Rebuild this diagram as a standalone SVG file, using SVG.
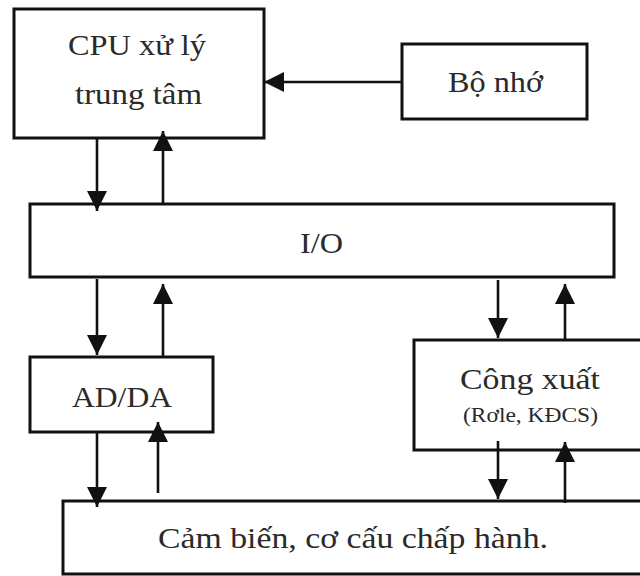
<svg xmlns="http://www.w3.org/2000/svg" width="640" height="576" viewBox="0 0 640 576">
  <style>
    .box { fill: #ffffff; stroke: #111111; stroke-width: 3; }
    .lbl { font-family: "Liberation Serif", "Times New Roman", serif; font-size: 30px; fill: #2a2a2a; text-anchor: middle; }
    .sub { font-size: 21px; }
    .wire { stroke: #111111; stroke-width: 2.6; fill: none; marker-end: url(#head); }
  </style>
  <defs>
    <marker id="head" markerUnits="userSpaceOnUse" markerWidth="21" markerHeight="21" refX="20" refY="10" orient="auto" viewBox="0 0 21 21">
      <path d="M0,0 L20,10 L0,20 z" fill="#111111"/>
    </marker>
  </defs>

  <rect width="640" height="576" fill="#ffffff"/>

  <g id="cpu">
    <rect class="box" x="14" y="9" width="250" height="129"/>
    <text class="lbl" x="137" y="55" textLength="138" lengthAdjust="spacingAndGlyphs">CPU xử lý</text>
    <text class="lbl" x="138.5" y="104" textLength="127" lengthAdjust="spacingAndGlyphs">trung tâm</text>
  </g>

  <g id="memory">
    <rect class="box" x="402" y="44" width="185" height="75"/>
    <text class="lbl" x="495.5" y="92" textLength="95" lengthAdjust="spacingAndGlyphs">Bộ nhớ</text>
  </g>

  <g id="io">
    <rect class="box" x="30" y="204" width="584" height="73"/>
    <text class="lbl" x="321.5" y="253" textLength="43" lengthAdjust="spacingAndGlyphs">I/O</text>
  </g>

  <g id="adda">
    <rect class="box" x="30" y="357" width="183" height="75"/>
    <text class="lbl" x="122" y="407" textLength="100" lengthAdjust="spacingAndGlyphs">AD/DA</text>
  </g>

  <g id="power">
    <rect class="box" x="414" y="340" width="240" height="110"/>
    <text class="lbl" x="530" y="389" textLength="140" lengthAdjust="spacingAndGlyphs">Công xuất</text>
    <text class="lbl sub" x="530.5" y="422" textLength="135" lengthAdjust="spacingAndGlyphs">(Rơle, KĐCS)</text>
  </g>

  <g id="field">
    <rect class="box" x="63" y="501" width="600" height="73"/>
    <text class="lbl" x="353" y="548" textLength="390" lengthAdjust="spacingAndGlyphs">Cảm biến, cơ cấu chấp hành.</text>
  </g>

  <g id="connectors">
    <line class="wire" x1="402" y1="82" x2="264" y2="82"/>
    <line class="wire" x1="97" y1="138" x2="97" y2="211"/>
    <line class="wire" x1="163" y1="205" x2="163" y2="131"/>
    <line class="wire" x1="97" y1="279" x2="97" y2="355"/>
    <line class="wire" x1="163" y1="357" x2="163" y2="284"/>
    <line class="wire" x1="97" y1="432" x2="97" y2="507"/>
    <line class="wire" x1="158" y1="493" x2="158" y2="422"/>
    <line class="wire" x1="498" y1="280" x2="498" y2="338"/>
    <line class="wire" x1="565" y1="340" x2="565" y2="284"/>
    <line class="wire" x1="498" y1="441" x2="498" y2="499"/>
    <line class="wire" x1="565" y1="503" x2="565" y2="442"/>
  </g>
</svg>
